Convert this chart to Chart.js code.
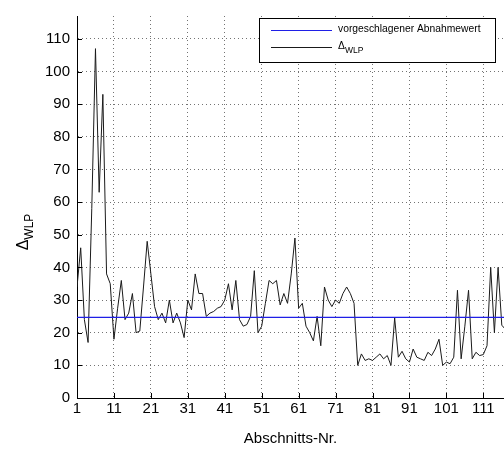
<!DOCTYPE html>
<html>
<head>
<meta charset="utf-8">
<script src="https://cdn.jsdelivr.net/npm/chart.js@4/dist/chart.umd.min.js"></script>
<style>
  html, body { margin: 0; padding: 0; background: #fff; overflow: hidden; }
  #c { display: block; }
</style>
</head>
<body>
<canvas id="c" width="504" height="452"></canvas>
<script>
// Δ_WLP per section (section numbers start at 1)
const deltaWLP = [
  34, 46, 24, 17, 58, 107, 63, 93, 38, 35,
  18, 27.5, 36, 24, 26, 32, 20, 20.5, 34, 48,
  38, 28, 24, 26, 23, 30, 23, 26, 23, 18.5,
  30, 27, 38, 32, 32, 25, 26, 26.5, 27.5, 28,
  30, 35, 27, 36, 24, 22, 22.5, 25, 39, 20,
  22, 29, 36, 35, 36, 28.5, 32, 29, 38, 49,
  27.5, 29, 22, 20, 17.5, 25, 16, 34, 30, 28,
  30, 29, 32, 34, 32, 29, 10, 13.5, 11.5, 12,
  11.5, 12.5, 13.5, 12, 13, 10, 24.5, 12.5, 14.3, 12,
  11, 15, 12.5, 12, 11.5, 14, 13, 15, 18, 10,
  11, 10.5, 12.5, 33, 12, 22, 33, 12, 14, 13,
  13.3, 16, 40, 20, 40, 22.3, 21
];

// proposed acceptance value (horizontal reference line)
const acceptanceValue = 24.7;

const xTicks = [1, 11, 21, 31, 41, 51, 61, 71, 81, 91, 101, 111];
const yTicks = [0, 10, 20, 30, 40, 50, 60, 70, 80, 90, 100, 110];

const legendLabels = ['vorgeschlagener Abnahmewert', 'Δ'];
const legendSub = ['', 'WLP'];
const xTitle = 'Abschnitts-Nr.';

const FONT = '"Liberation Sans", Arial, Helvetica, sans-serif';

const series = deltaWLP.map((v, i) => ({ x: i + 1, y: v }));
const refLine = [
  { x: 1, y: acceptanceValue },
  { x: deltaWLP.length, y: acceptanceValue }
];

// inward tick marks, axis title, y title and boxed legend
const decorations = {
  id: 'decorations',
  afterDraw(chart) {
    const ctx = chart.ctx;
    const xs = chart.scales.x, ys = chart.scales.y;
    const area = chart.chartArea;
    ctx.save();
    ctx.strokeStyle = '#000';
    ctx.lineWidth = 1;
    ctx.beginPath();
    xTicks.forEach(t => {
      const px = Math.round(xs.getPixelForValue(t)) + 0.5;
      ctx.moveTo(px, area.bottom);
      ctx.lineTo(px, area.bottom - 5);
    });
    yTicks.forEach(t => {
      const py = Math.round(ys.getPixelForValue(t)) + 0.5;
      ctx.moveTo(area.left, py);
      ctx.lineTo(area.left + 5, py);
    });
    ctx.stroke();

    // x axis title
    ctx.fillStyle = '#000';
    ctx.font = '15px ' + FONT;
    ctx.textAlign = 'center';
    ctx.textBaseline = 'middle';
    ctx.fillText(xTitle, (area.left + area.right) / 2, 439);

    // y axis title Δ_WLP, rotated
    ctx.save();
    ctx.translate(28, 232);
    ctx.rotate(-Math.PI / 2);
    ctx.textAlign = 'left';
    ctx.textBaseline = 'alphabetic';
    ctx.font = '16px ' + FONT;
    const dW = ctx.measureText('Δ').width;
    ctx.font = '12px ' + FONT;
    const sW = ctx.measureText('WLP').width;
    const start = -(dW + sW) / 2;
    ctx.font = '16px ' + FONT;
    ctx.fillText('Δ', start, 0);
    ctx.font = '12px ' + FONT;
    ctx.fillText('WLP', start + dW, 5);
    ctx.restore();

    // legend box
    const bx = 259.5, by = 18.5, bw = 236, bh = 44;
    ctx.fillStyle = '#fff';
    ctx.fillRect(bx, by, bw, bh);
    ctx.strokeStyle = '#000';
    ctx.strokeRect(bx, by, bw, bh);
    const rows = [30.5, 47.5];
    chart.data.datasets.forEach((ds, i) => {
      ctx.strokeStyle = ds.borderColor;
      ctx.lineWidth = 1;
      ctx.beginPath();
      ctx.moveTo(271, rows[i]);
      ctx.lineTo(332, rows[i]);
      ctx.stroke();
      ctx.fillStyle = '#000';
      ctx.textAlign = 'left';
      ctx.textBaseline = 'middle';
      ctx.font = '10.3px ' + FONT;
      ctx.fillText(legendLabels[i], 338, rows[i] - 1);
      if (legendSub[i]) {
        const w = ctx.measureText(legendLabels[i]).width;
        ctx.font = '8.5px ' + FONT;
        ctx.fillText(legendSub[i], 338 + w, rows[i] + 3);
      }
    });
    ctx.restore();
  }
};

new Chart(document.getElementById('c'), {
  type: 'line',
  data: {
    datasets: [
      {
        label: legendLabels[0],
        data: refLine,
        borderColor: '#1f1fe6',
        borderWidth: 1.2,
        pointRadius: 0,
        tension: 0,
        order: 0
      },
      {
        label: legendLabels[1] + legendSub[1],
        data: series,
        borderColor: '#1a1a1a',
        borderWidth: 1,
        pointRadius: 0,
        tension: 0,
        order: 1
      }
    ]
  },
  options: {
    responsive: false,
    devicePixelRatio: 1,
    animation: false,
    layout: { padding: { top: 6, right: 0, left: 0, bottom: 0 } },
    plugins: {
      legend: { display: false },
      tooltip: { enabled: false }
    },
    scales: {
      x: {
        type: 'linear',
        min: 1,
        max: 116.6,
        afterBuildTicks: s => { s.ticks = xTicks.map(v => ({ value: v })); },
        afterFit: s => { s.height = 54; },
        ticks: {
          color: '#000',
          font: { family: FONT, size: 15 },
          padding: 2,
          maxRotation: 0,
          autoSkip: false
        },
        grid: {
          color: 'rgba(0,0,0,0.55)',
          lineWidth: 1,
          drawTicks: false
        },
        border: { display: true, color: '#000', width: 1, dash: [1, 3] }
      },
      y: {
        type: 'linear',
        min: 0,
        max: 117,
        afterBuildTicks: s => { s.ticks = yTicks.map(v => ({ value: v })); },
        afterFit: s => { s.width = 77; },
        ticks: {
          color: '#000',
          font: { family: FONT, size: 15 },
          padding: 7
        },
        grid: {
          color: 'rgba(0,0,0,0.55)',
          lineWidth: 1,
          drawTicks: false
        },
        border: { display: true, color: '#000', width: 1, dash: [1, 3] }
      }
    }
  },
  plugins: [decorations]
});
</script>
</body>
</html>
